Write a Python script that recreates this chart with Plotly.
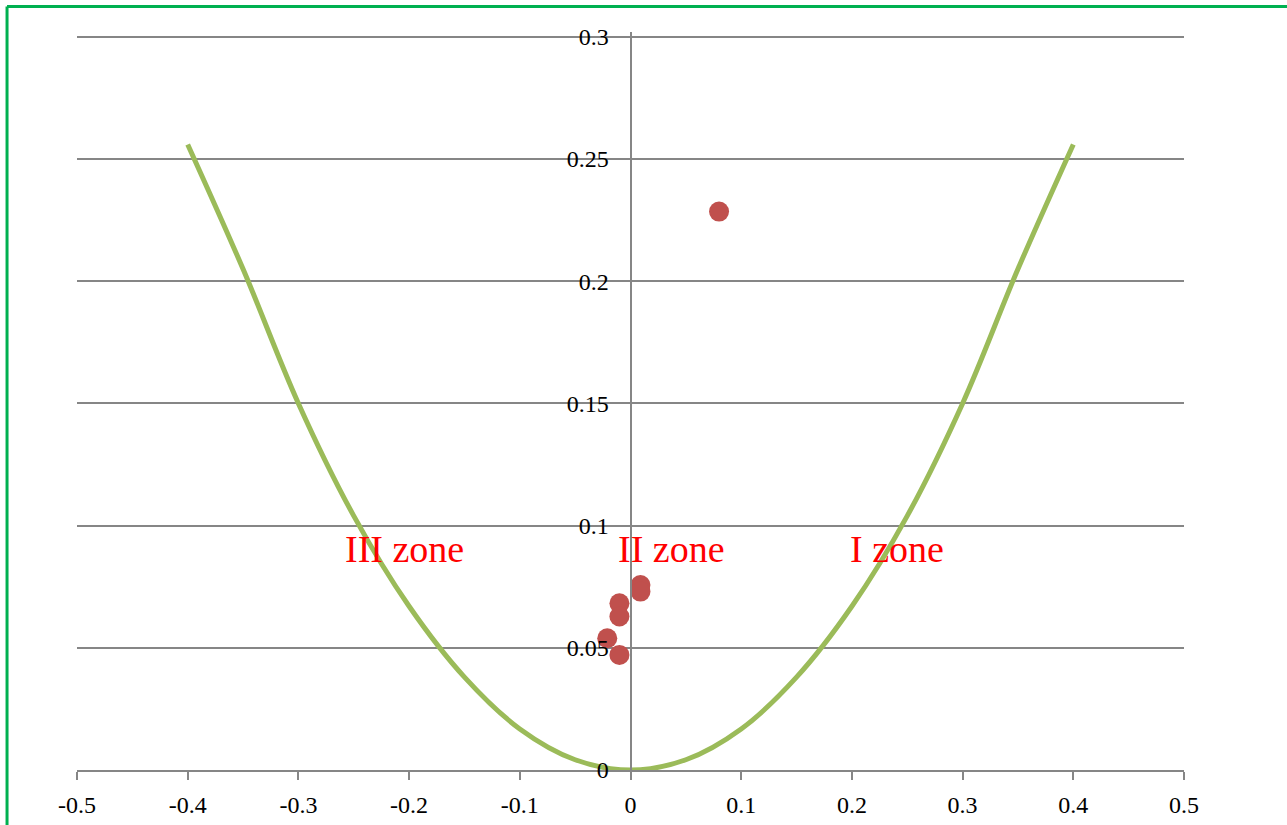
import plotly.graph_objects as go

# Curve (boundary)
curve_x = [-0.4, -0.35, -0.3, -0.25, -0.2, -0.15, -0.1, -0.05, 0.0,
           0.05, 0.1, 0.15, 0.2, 0.25, 0.3, 0.35, 0.4]
curve_y = [0.256, 0.205, 0.150, 0.104, 0.067, 0.038, 0.0168, 0.0042, 0.0,
           0.0042, 0.0168, 0.038, 0.067, 0.104, 0.150, 0.205, 0.256]

# Measured points
pts_x = [0.080, 0.009, 0.009, -0.010, -0.010, -0.021, -0.010]
pts_y = [0.2285, 0.0757, 0.0730, 0.0682, 0.0628, 0.0539, 0.0471]

# Zone labels
zone_text = ["III zone", "II zone", "I zone"]
zone_x = [-0.204, 0.037, 0.241]
zone_y = [0.0905, 0.0905, 0.0905]

x_ticks = [-0.5, -0.4, -0.3, -0.2, -0.1, 0, 0.1, 0.2, 0.3, 0.4, 0.5]
y_ticks = [0, 0.05, 0.1, 0.15, 0.2, 0.25, 0.3]

fig = go.Figure()
fig.add_trace(go.Scatter(x=curve_x, y=curve_y, mode="lines",
                         line=dict(color="#9BBB59", width=5, shape="spline"),
                         showlegend=False, hoverinfo="skip"))
fig.add_trace(go.Scatter(x=pts_x, y=pts_y, mode="markers",
                         marker=dict(color="#C0504D", size=20),
                         showlegend=False))

for t, x, y in zip(zone_text, zone_x, zone_y):
    fig.add_annotation(x=x, y=y, text=t, showarrow=False,
                       font=dict(family="Liberation Serif", size=38, color="#FF0000"),
                       xanchor="center", yanchor="middle")

# green frame (top and left edges)
fig.add_shape(type="line", xref="paper", yref="paper",
              x0=-0.0632, x1=-0.0632, y0=-0.2, y1=1.0345,
              line=dict(color="#00B050", width=3))
fig.add_shape(type="line", xref="paper", yref="paper",
              x0=-0.0632, x1=1.2, y0=1.0345, y1=1.0345,
              line=dict(color="#00B050", width=3))

fig.update_layout(
    width=1287, height=825,
    margin=dict(l=77, r=103, t=32, b=55, autoexpand=False),
    paper_bgcolor="white", plot_bgcolor="white",
    font=dict(family="Liberation Serif", size=24, color="#000000"),
    xaxis=dict(range=[-0.5, 0.5], tickvals=x_ticks,
               ticktext=[("%g" % v) for v in x_ticks],
               showgrid=False, zeroline=False, automargin=False,
               showline=True, linecolor="#868686", linewidth=2,
               ticks="outside", ticklen=8, tickwidth=2, tickcolor="#868686",
               ticklabelstandoff=4, anchor="y"),
    yaxis=dict(range=[0, 0.302], tickvals=y_ticks,
               ticktext=[("%g" % v) for v in y_ticks],
               showgrid=True, gridcolor="#868686", gridwidth=2,
               zeroline=False, showline=True, linecolor="#868686", linewidth=2,
               ticks="", anchor="free", position=0.5, automargin=False,
               ticklabelstandoff=16),
)

fig.write_html("out.html", config={"displayModeBar": False},
               post_script="document.body.style.margin='0';document.body.style.overflow='hidden';")
